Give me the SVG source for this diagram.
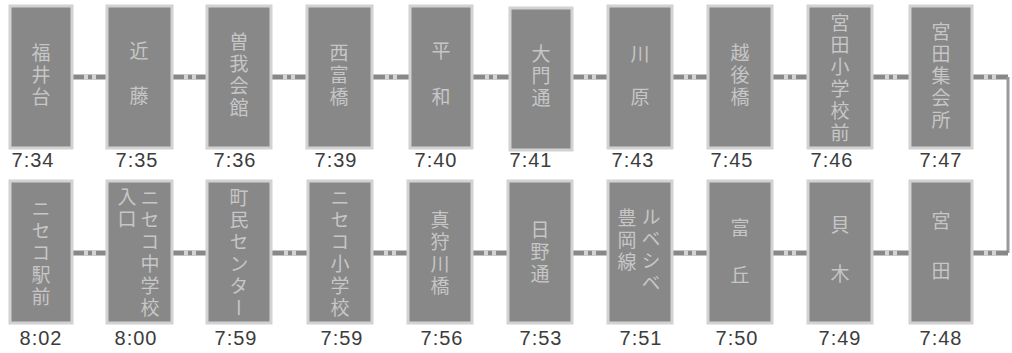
<svg xmlns="http://www.w3.org/2000/svg" width="1012" height="353" viewBox="0 0 1012 353">
<defs>
<style>
.box{fill:#888888;stroke:#d2d2d2;stroke-width:3}
.v{font-family:"Noto Sans CJK JP","Noto Sans CJK SC",sans-serif;font-size:19px;fill:#c6c6c6;writing-mode:vertical-rl;text-anchor:middle;letter-spacing:3px}
.t{font-family:"Liberation Sans",Arial,sans-serif;font-size:20px;fill:#3c3c3c;text-anchor:middle;letter-spacing:1px}
.ln{stroke:#888888;stroke-width:5;fill:none}
.vl{stroke:#9a9a9a;stroke-width:3;fill:none}
.mk{fill:#d4d4d4}
</style>
<g id="mark"><rect class="mk" x="-6" y="-2.5" width="4" height="5"/><rect class="mk" x="2" y="-2.5" width="4" height="5"/></g>
</defs>
<rect width="1012" height="353" fill="#ffffff"/>
<g id="connectors">
<path class="ln" d="M72 77H107M172 77H207M271 77H307M372 77H410M472 77H510M572 77H608M672 77H708M772 77H808M872 77H910M972 77H1008"/>
<path class="vl" d="M1008 77V253"/>
<path class="ln" d="M72 253H107M172 253H207M271 253H308M372 253H408M472 253H508M572 253H608M672 253H708M772 253H808M872 253H910M972 253H1008"/>
<use href="#mark" x="90" y="77"/><use href="#mark" x="190" y="77"/><use href="#mark" x="289" y="77"/><use href="#mark" x="391" y="77"/><use href="#mark" x="491" y="77"/><use href="#mark" x="590" y="77"/><use href="#mark" x="690" y="77"/><use href="#mark" x="790" y="77"/><use href="#mark" x="891" y="77"/><use href="#mark" x="990" y="77"/>
<use href="#mark" x="90" y="253"/><use href="#mark" x="190" y="253"/><use href="#mark" x="290" y="253"/><use href="#mark" x="390" y="253"/><use href="#mark" x="490" y="253"/><use href="#mark" x="590" y="253"/><use href="#mark" x="690" y="253"/><use href="#mark" x="790" y="253"/><use href="#mark" x="891" y="253"/><use href="#mark" x="990" y="253"/>
</g>
<g id="n1"><rect class="box" x="10" y="6" width="62" height="142"/><text class="v" x="41" y="76">福井台</text><text class="t" x="33" y="167">7:34</text></g>
<g id="n2"><rect class="box" x="107" y="6" width="65" height="142"/><text class="v" x="139"><tspan y="52">近</tspan><tspan y="97">藤</tspan></text><text class="t" x="137" y="167">7:35</text></g>
<g id="n3"><rect class="box" x="207" y="6" width="64" height="142"/><text class="v" x="239" y="76">曽我会館</text><text class="t" x="235" y="167">7:36</text></g>
<g id="n4"><rect class="box" x="307" y="6" width="65" height="142"/><text class="v" x="339" y="76">西富橋</text><text class="t" x="336" y="167">7:39</text></g>
<g id="n5"><rect class="box" x="410" y="6" width="62" height="142"/><text class="v" x="441"><tspan y="52">平</tspan><tspan y="98">和</tspan></text><text class="t" x="436" y="167">7:40</text></g>
<g id="n6"><rect class="box" x="510" y="8" width="62" height="142"/><text class="v" x="541" y="77">大門通</text><text class="t" x="531" y="167">7:41</text></g>
<g id="n7"><rect class="box" x="608" y="6" width="64" height="142"/><text class="v" x="640"><tspan y="55">川</tspan><tspan y="98">原</tspan></text><text class="t" x="633" y="167">7:43</text></g>
<g id="n8"><rect class="box" x="708" y="6" width="64" height="142"/><text class="v" x="740" y="76">越後橋</text><text class="t" x="732" y="167">7:45</text></g>
<g id="n9"><rect class="box" x="808" y="6" width="64" height="142"/><text class="v" x="840" y="79">宮田小学校前</text><text class="t" x="832" y="167">7:46</text></g>
<g id="n10"><rect class="box" x="910" y="6" width="62" height="142"/><text class="v" x="941" y="77">宮田集会所</text><text class="t" x="941" y="167">7:47</text></g>
<g id="n11"><rect class="box" x="910" y="181" width="62" height="142"/><text class="v" x="941"><tspan y="222">宮</tspan><tspan y="272">田</tspan></text><text class="t" x="941" y="345">7:48</text></g>
<g id="n12"><rect class="box" x="808" y="181" width="64" height="142"/><text class="v" x="840"><tspan y="226">貝</tspan><tspan y="275">木</tspan></text><text class="t" x="840" y="345">7:49</text></g>
<g id="n13"><rect class="box" x="708" y="181" width="64" height="142"/><text class="v" x="740"><tspan y="229">富</tspan><tspan y="276">丘</tspan></text><text class="t" x="737" y="345">7:50</text></g>
<g id="n14"><rect class="box" x="608" y="181" width="64" height="142"/><text class="v" x="651" y="251">ルベシベ</text><text class="v" x="627" y="241">豊岡線</text><text class="t" x="641" y="345">7:51</text></g>
<g id="n15"><rect class="box" x="508" y="181" width="64" height="142"/><text class="v" x="540" y="253">日野通</text><text class="t" x="541" y="345">7:53</text></g>
<g id="n16"><rect class="box" x="408" y="181" width="64" height="142"/><text class="v" x="440" y="254">真狩川橋</text><text class="t" x="442" y="345">7:56</text></g>
<g id="n17"><rect class="box" x="308" y="181" width="64" height="142"/><text class="v" x="340" y="254">ニセコ小学校</text><text class="t" x="342" y="345">7:59</text></g>
<g id="n18"><rect class="box" x="207" y="181" width="64" height="142"/><text class="v" x="239" y="254">町民センター</text><text class="t" x="236" y="345">7:59</text></g>
<g id="n19"><rect class="box" x="107" y="181" width="65" height="142"/><text class="v" x="150" y="254">ニセコ中学校</text><text class="v" x="127" y="209">入口</text><text class="t" x="136" y="345">8:00</text></g>
<g id="n20"><rect class="box" x="10" y="181" width="62" height="142"/><text class="v" x="41" y="254">ニセコ駅前</text><text class="t" x="41" y="345">8:02</text></g>
</svg>
